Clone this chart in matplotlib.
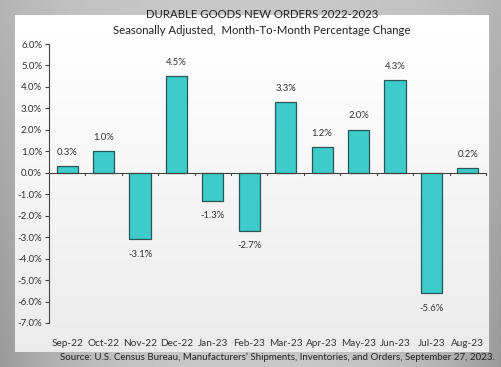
import matplotlib
matplotlib.use("Agg")
import matplotlib.pyplot as plt
import numpy as np

months = ["Sep-22", "Oct-22", "Nov-22", "Dec-22", "Jan-23", "Feb-23", "Mar-23",
          "Apr-23", "May-23", "Jun-23", "Jul-23", "Aug-23"]
values = [0.3, 1.0, -3.1, 4.5, -1.3, -2.7, 3.3, 1.2, 2.0, 4.3, -5.6, 0.2]
yticks = [6, 5, 4, 3, 2, 1, 0, -1, -2, -3, -4, -5, -6, -7]

plt.rcParams['font.family'] = ['Lato', 'DejaVu Sans']
W, H = 502, 367
fig = plt.figure(figsize=(W/100, H/100), dpi=100)
fig.patch.set_facecolor('#bdbdbd')

# background gradient (grey, darker toward side edges and bottom)
bg = fig.add_axes([0, 0, 1, 1], zorder=-10)
xs = np.linspace(-1, 1, 300)
ys = np.linspace(0, 1, 200)[:, None]  # 0 top, 1 bottom
img = 0.78 - 0.18 * (np.abs(xs)[None, :] ** 3) * (0.4 + 0.6 * ys)
bg.imshow(img, cmap='gray', vmin=0, vmax=1, aspect='auto', extent=[0, 1, 0, 1], origin='upper')
bg.set_xlim(0, 1); bg.set_ylim(0, 1); bg.axis('off')
# white panel with slight vertical gradient
bg.imshow(np.linspace(0.92, 1.0, 100)[:, None] * np.ones((100, 2)),
          cmap='gray', vmin=0, vmax=1, aspect='auto', origin='lower',
          extent=[15/W, 489/W, 1-352/H, 1-15/H])

ax = fig.add_axes([49/W, 1-323/H, (486-49)/W, (323-44)/H])
ax.patch.set_alpha(0)
x = np.arange(len(months))
ax.bar(x, values, width=0.58, color='#3dcbcb', edgecolor='#2a5555', linewidth=0.9, zorder=3)
ax.set_xlim(-0.5, len(months)-0.5)
ax.set_ylim(-7, 6)
ax.set_yticks(yticks)
ax.set_yticklabels([f"{v:.1f}%" for v in yticks], fontsize=7, color='#333333')
ax.tick_params(axis='y', length=3, width=0.8, color='#444444', pad=2)
ax.set_xticks(x)
ax.set_xticklabels([])
ax.tick_params(axis='x', length=0)
for sp in ['top', 'right', 'bottom']:
    ax.spines[sp].set_visible(False)
ax.spines['left'].set_color('#444444')
ax.spines['left'].set_linewidth(0.8)
ax.axhline(0, color='#444444', linewidth=0.8, zorder=4)
# ticks at category boundaries below zero line
for b in np.arange(-0.5, len(months), 1.0)[1:]:
    ax.plot([b, b], [0, -0.12], color='#444444', linewidth=0.8, zorder=4, clip_on=False)
# month labels
for xi, m in zip(x, months):
    ax.annotate(m, (xi, -7), xytext=(0, -15), textcoords='offset points',
                ha='center', va='center', fontsize=7.2, color='#333333', annotation_clip=False)
# value labels
for xi, v in zip(x, values):
    off = 10 if v >= 0 else -11
    ax.annotate(f"{v:.1f}%", (xi, v), xytext=(0, off), textcoords='offset points',
                ha='center', va='center', fontsize=6.8, color='#333333')

fig.text(262/W, 1-14/H, "DURABLE GOODS NEW ORDERS 2022-2023", ha='center', va='center',
         fontsize=8.2, color='#222222')
fig.text(262/W, 1-30/H, "Seasonally Adjusted,  Month-To-Month Percentage Change", ha='center',
         va='center', fontsize=8.2, color='#222222')
fig.text(277/W, 1-357/H, "Source: U.S. Census Bureau, Manufacturers\u2019 Shipments, Inventories, and Orders, September 27, 2023.",
         ha='center', va='center', fontsize=7.0, color='#222222')

fig.savefig("out.png", dpi=100, facecolor=fig.get_facecolor())
